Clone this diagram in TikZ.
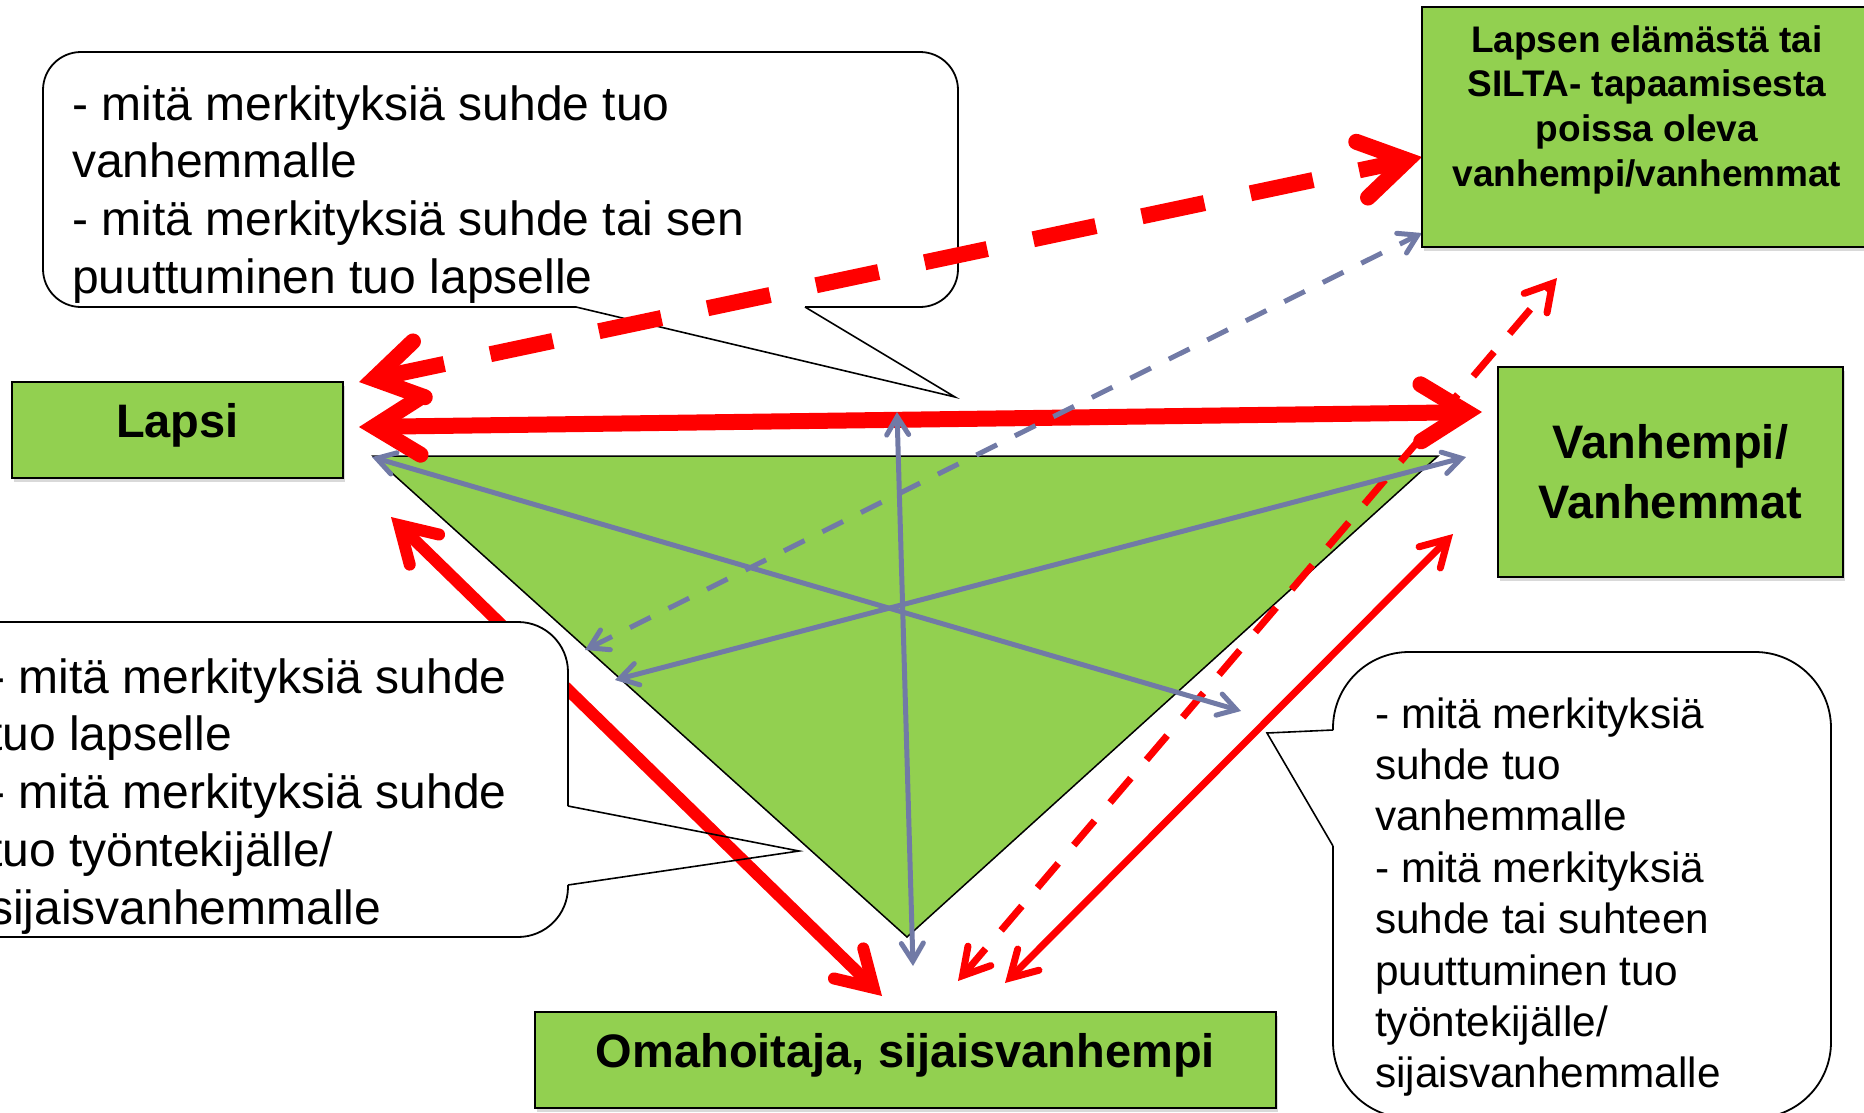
\documentclass[tikz,border=0pt]{standalone}
\usepackage{fontspec}
\setmainfont{Liberation Sans}
\usetikzlibrary{arrows.meta,shadows}

\definecolor{boxgreen}{RGB}{146,208,80}
\definecolor{slateblue}{RGB}{113,122,166}

\tikzset{
  greenbox/.style={draw=black, line width=2.5pt, fill=boxgreen, inner sep=0pt,
    drop shadow={shadow xshift=2pt, shadow yshift=-4pt, opacity=.3}},
  boxlabel/.style={font=\fontsize{47}{60}\selectfont\bfseries},
  onebase/.style={text height=22pt, text depth=7pt},
  bubble/.style={draw=black, line width=1.8pt, fill=white},
  pointer/.style={draw=black, line width=1.6pt, line join=miter},
  bubbletext/.style={anchor=north west, align=left, inner sep=0pt},
  redbig/.style={draw=red, line width=16pt, <->,
    >={Straight Barb[length=46pt, width=57pt, line cap=round, line join=miter]}},
  redmid/.style={draw=red, line width=12pt, <->,
    >={Straight Barb[length=35pt, width=42pt, line cap=round, line join=miter]}},
  redthin/.style={draw=red, line width=7pt, <->,
    >={Straight Barb[length=26pt, width=30pt, line cap=round, line join=miter]}},
  bluearrow/.style={draw=slateblue, line width=5pt, <->,
    >={Straight Barb[length=18pt, width=22pt, line cap=round, line join=miter]}}
}

\begin{document}
\begin{tikzpicture}[x=1pt, y=-1pt]
\useasboundingbox (0,0) rectangle (1864,1112);

\draw[bubble, rounded corners=38pt] (576,307) -- (43,307) -- (43,52) -- (958,52) -- (958,307) -- (805,307);
\draw[pointer] (576,307) -- (955,397) -- (805,307);
\node[bubbletext, font=\fontsize{48}{57.7}\selectfont] (topnote) at (72,79.6)
  {\strut- mitä merkityksiä suhde tuo\\vanhemmalle\\- mitä merkityksiä suhde tai sen\\puuttuminen tuo lapselle};

\coordinate (tl) at (373,456);
\coordinate (tr) at (1438,456);
\coordinate (tb) at (907,937);
\filldraw[fill=boxgreen, draw=black, line width=1.5pt] (tl) -- (tr) -- (tb) -- cycle;

\coordinate (aL) at (359,427);
\coordinate (aR) at (1482,412);
\coordinate (bL) at (359,382);
\coordinate (bR) at (1422,157);
\coordinate (cT) at (391,517);
\coordinate (cB) at (882,996);
\coordinate (dT) at (1453,534);
\coordinate (dB) at (1005,983);
\coordinate (eT) at (1557,278);
\coordinate (eB) at (958,981);

\draw[redbig] (aL) -- (aR);
\draw[redbig, dash pattern=on 64pt off 47pt] (bL) -- (bR);
\draw[redmid] (cT) -- (cB);
\draw[redthin] (dT) -- (dB);
\draw[redthin, dash pattern=on 32pt off 24pt] (eB) -- (eT);

\coordinate (vT) at (897,412);
\coordinate (vB) at (913,966);
\coordinate (xA) at (372,457);
\coordinate (xB) at (1241,711);
\coordinate (yA) at (615,680);
\coordinate (yB) at (1466,457);
\coordinate (zA) at (585,650);
\coordinate (zB) at (1422,233);

\draw[bluearrow] (vT) -- (vB);
\draw[bluearrow] (xA) -- (xB);
\draw[bluearrow] (yA) -- (yB);
\draw[bluearrow, dash pattern=on 23pt off 20pt] (zA) -- (zB);

\draw[bubble, rounded corners=50pt] (568,806) -- (568,622) -- (-60,622) -- (-60,937) -- (568,937) -- (568,885);
\draw[pointer] (568,806) -- (799,851) -- (568,885);
\node[bubbletext, font=\fontsize{48}{57.7}\selectfont] (leftnote) at (-11,652.6)
  {\strut- mitä merkityksiä suhde\\tuo lapselle\\- mitä merkityksiä suhde\\tuo työntekijälle/\\sijaisvanhemmalle};

\draw[bubble, rounded corners=76pt] (1333,730) -- (1333,652) -- (1831,652) -- (1831,1118) -- (1333,1118) -- (1333,846);
\draw[pointer] (1333,730) -- (1267,733) -- (1333,846);
\node[bubbletext, font=\fontsize{42.3}{51.4}\selectfont] (rightnote) at (1375,692)
  {\strut- mitä merkityksiä\\suhde tuo\\vanhemmalle\\- mitä merkityksiä\\suhde tai suhteen\\puuttuminen tuo\\työntekijälle/\\sijaisvanhemmalle};

\node[greenbox, onebase, boxlabel, minimum width=331pt, minimum height=96pt] (lapsi) at (177.5,430) {Lapsi};
\node[greenbox, boxlabel, align=center, minimum width=345pt, minimum height=210pt] (vanhempi) at (1670.5,472) {Vanhempi/\\Vanhemmat};
\node[greenbox, onebase, boxlabel, minimum width=741pt, minimum height=96pt] (omahoitaja) at (905.5,1060) {Omahoitaja, sijaisvanhempi};
\node[greenbox, minimum width=448pt, minimum height=240pt] (poissa) at (1646,127) {};
\node[anchor=north, align=center, inner sep=0pt, font=\fontsize{37}{44.7}\selectfont\bfseries] (poissatext) at (1647,20.7)
  {\strut Lapsen elämästä tai\\SILTA- tapaamisesta\\poissa oleva\\vanhempi/vanhemmat};
\end{tikzpicture}
\end{document}
